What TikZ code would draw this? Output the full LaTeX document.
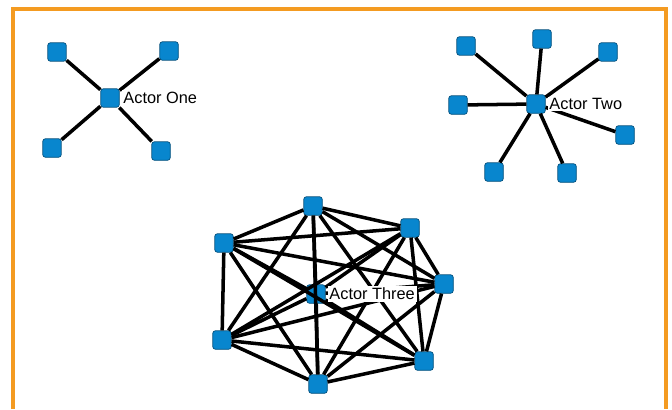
\documentclass[tikz,border=0pt]{standalone}
\usepackage{fontspec}
\setmainfont{Liberation Sans}
\usetikzlibrary{positioning}
\definecolor{actorblue}{RGB}{8,134,206}
\definecolor{frameorange}{RGB}{244,155,33}

\begin{document}
\begin{tikzpicture}[x=0.02cm, y=-0.02cm,
    actor/.style={rectangle, rounded corners=1.5pt, draw=actorblue!60!black, fill=actorblue, minimum size=0.37cm, inner sep=0pt, line width=0.4pt},
    tie/.style={line width=2pt, black},
    tag/.style={fill=white, inner sep=1pt, font=\fontsize{9.3}{10}\selectfont}]
    \useasboundingbox (0,0) rectangle (672,409);
    \fill[white] (0,0) rectangle (672,409);
    \draw[frameorange, line width=2.2pt] (13,409) -- (13,9) -- (666,9) -- (666,409);

    % actor one
    \node[actor] (c1) at (110,98) {};
    \foreach \n/\x/\y in {a/57/52, b/169/51, c/52/148, d/161/151} {
        \node[actor] (o\n) at (\x,\y) {};
        \draw[tie] (c1) -- (o\n);
    }
    \node[tag, right=1pt of c1] (l1) {Actor One};

    % actor two
    \node[actor] (c2) at (536,104) {};
    \foreach \n/\x/\y in {a/466/46, b/542/39, c/608/52, d/458/105, e/625/135, f/494/172, g/567/173} {
        \node[actor] (w\n) at (\x,\y) {};
        \draw[tie] (c2) -- (w\n);
    }
    \node[tag, right=1pt of c2] (l2) {Actor Two};

    % actor three, everyone tied to everyone
    \foreach \n/\x/\y in {1/316/294, 2/313/206, 3/224/243, 4/410/228, 5/444/284, 6/222/340, 7/424/361, 8/318/384} {
        \node[actor] (t\n) at (\x,\y) {};
    }
    \foreach \i in {1,...,8} {
        \foreach \j in {1,...,8} {
            \ifnum\j>\i \draw[tie] (t\i) -- (t\j); \fi
        }
    }
    \node[tag, right=1pt of t1] (l3) {Actor Three};
\end{tikzpicture}
\end{document}
